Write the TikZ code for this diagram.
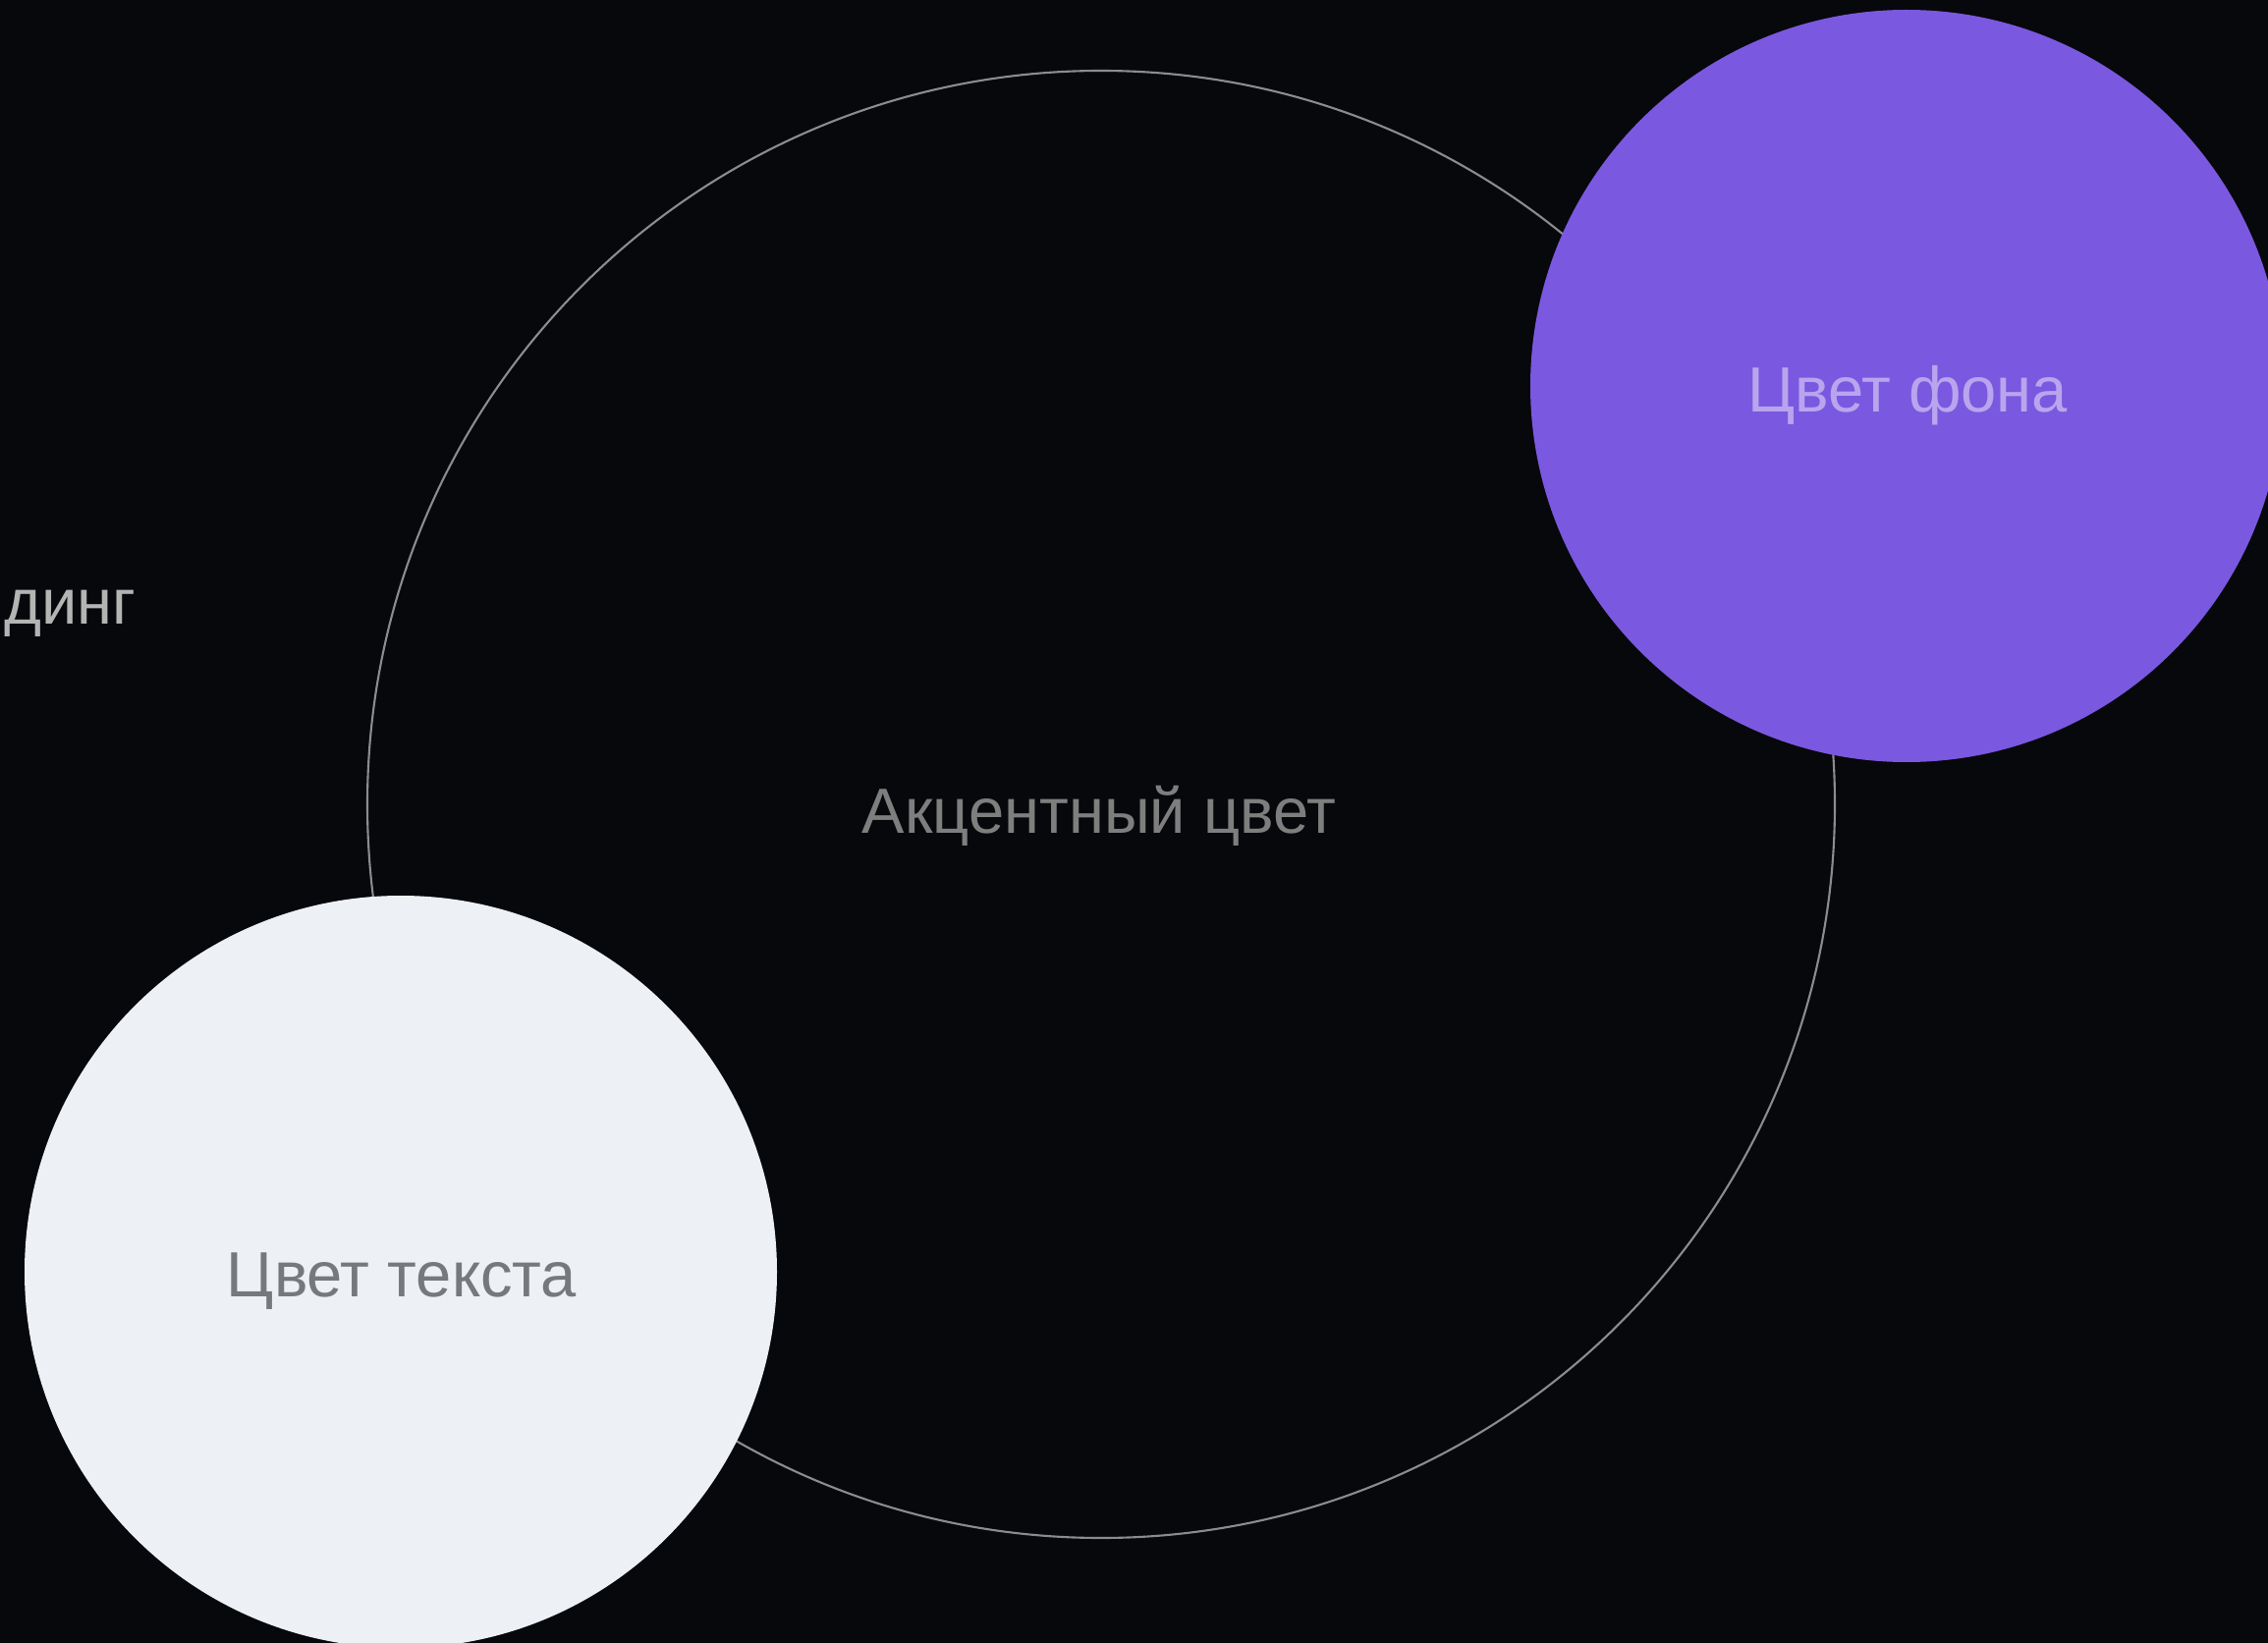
\documentclass[tikz,border=0pt]{standalone}
\usepackage{fontspec}
\setmainfont{Liberation Sans}
\definecolor{bgdark}{HTML}{07080C}
\definecolor{ringgray}{HTML}{8C8C8E}
\definecolor{accentviolet}{HTML}{7B58E0}
\definecolor{lavender}{HTML}{B9A5EE}
\definecolor{paper}{HTML}{EDF0F5}
\definecolor{inkgray}{HTML}{76787C}
\definecolor{midgray}{HTML}{7E7E7E}
\definecolor{lightgray}{HTML}{B4B4B4}

\begin{document}
\begin{tikzpicture}[x=0.01cm,y=-0.01cm,
  caption/.style={inner sep=0pt,anchor=base,font=\fontsize{18.5}{22}\selectfont}]
  \useasboundingbox (0,0) rectangle (2309,1673);
  \fill[bgdark] (0,0) rectangle (2309,1673);
  % accent ring, then the two colour discs on top
  \draw[ringgray,line width=0.6pt] (1121,819) circle[radius=747];
  \fill[accentviolet] (1941,393) circle[radius=383];
  \fill[paper] (408,1295) circle[radius=383];
  \node[caption,midgray] (accent) at (1119,848) {Акцентный цвет};
  \node[caption,lavender] (background) at (1942,420) {Цвет фона};
  \node[caption,inkgray] (textcol) at (409,1320) {Цвет текста};
  \node[caption,lightgray,anchor=base east] (branding) at (139,635) {динг};
\end{tikzpicture}
\end{document}
